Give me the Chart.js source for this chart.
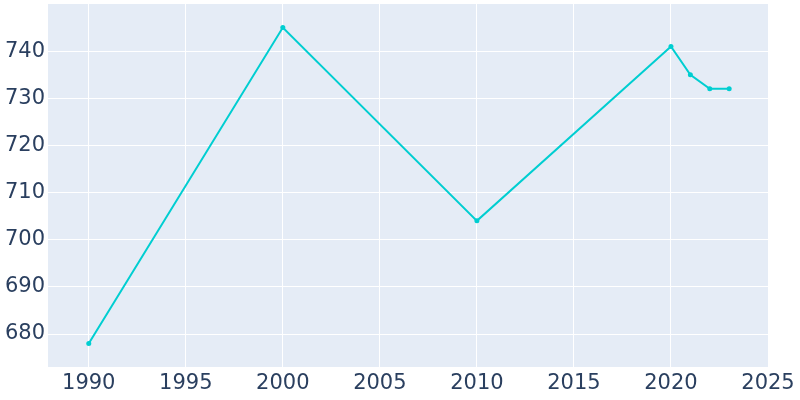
<!DOCTYPE html>
<html>
<head>
<meta charset="utf-8">
<script src="https://cdn.jsdelivr.net/npm/chart.js@4/dist/chart.umd.min.js"></script>
<style>
html,body{margin:0;padding:0;background:#fff;}
#wrap{width:800px;height:400px;position:relative;}
</style>
</head>
<body>
<div id="wrap"><canvas id="c" width="800" height="400"></canvas></div>
<script>
const years = [1990, 2000, 2010, 2020, 2021, 2022, 2023];
const population = [678, 745, 704, 741, 735, 732, 732];
const xTicks = [1990, 1995, 2000, 2005, 2010, 2015, 2020, 2025];
const yTicks = [680, 690, 700, 710, 720, 730, 740];

const bgPlugin = {
  id: 'bg',
  beforeDraw(chart) {
    const {ctx, chartArea: a} = chart;
    ctx.save();
    ctx.fillStyle = '#E5ECF6';
    ctx.fillRect(a.left, a.top, a.right - a.left, a.bottom - a.top);
    ctx.restore();
  }
};

new Chart(document.getElementById('c'), {
  type: 'line',
  data: {
    datasets: [{
      data: years.map((y, i) => ({x: y, y: population[i]})),
      borderColor: '#00CED1',
      backgroundColor: '#00CED1',
      borderWidth: 2,
      pointRadius: 2.5,
      pointBorderWidth: 0,
      tension: 0
    }]
  },
  options: {
    responsive: false,
    animation: false,
    layout: {padding: {top: 3, right: 32, left: 0, bottom: 0}},
    plugins: {legend: {display: false}, tooltip: {enabled: false}},
    scales: {
      x: {
        type: 'linear',
        min: 1987.9,
        max: 2025,
        afterBuildTicks(s) { s.ticks = xTicks.map(v => ({value: v})); },
        afterFit(s) { s.height = 33; s.paddingLeft = 0; s.paddingRight = 0; },
        grid: {color: '#ffffff', lineWidth: 1, drawTicks: false},
        border: {display: false},
        ticks: {
          color: '#2a3f5f',
          font: {family: 'DejaVu Sans', size: 21},
          padding: 4,
          maxRotation: 0,
          autoSkip: false,
          callback: v => String(v)
        }
      },
      y: {
        min: 673,
        max: 750,
        afterBuildTicks(s) { s.ticks = yTicks.map(v => ({value: v})); },
        afterFit(s) { s.width = 48; s.paddingTop = 0; s.paddingBottom = 0; },
        grid: {color: '#ffffff', lineWidth: 1, drawTicks: false},
        border: {display: false},
        ticks: {
          color: '#2a3f5f',
          font: {family: 'DejaVu Sans', size: 21},
          padding: 3,
          autoSkip: false,
          callback: v => String(v)
        }
      }
    }
  },
  plugins: [bgPlugin]
});
</script>
</body>
</html>
